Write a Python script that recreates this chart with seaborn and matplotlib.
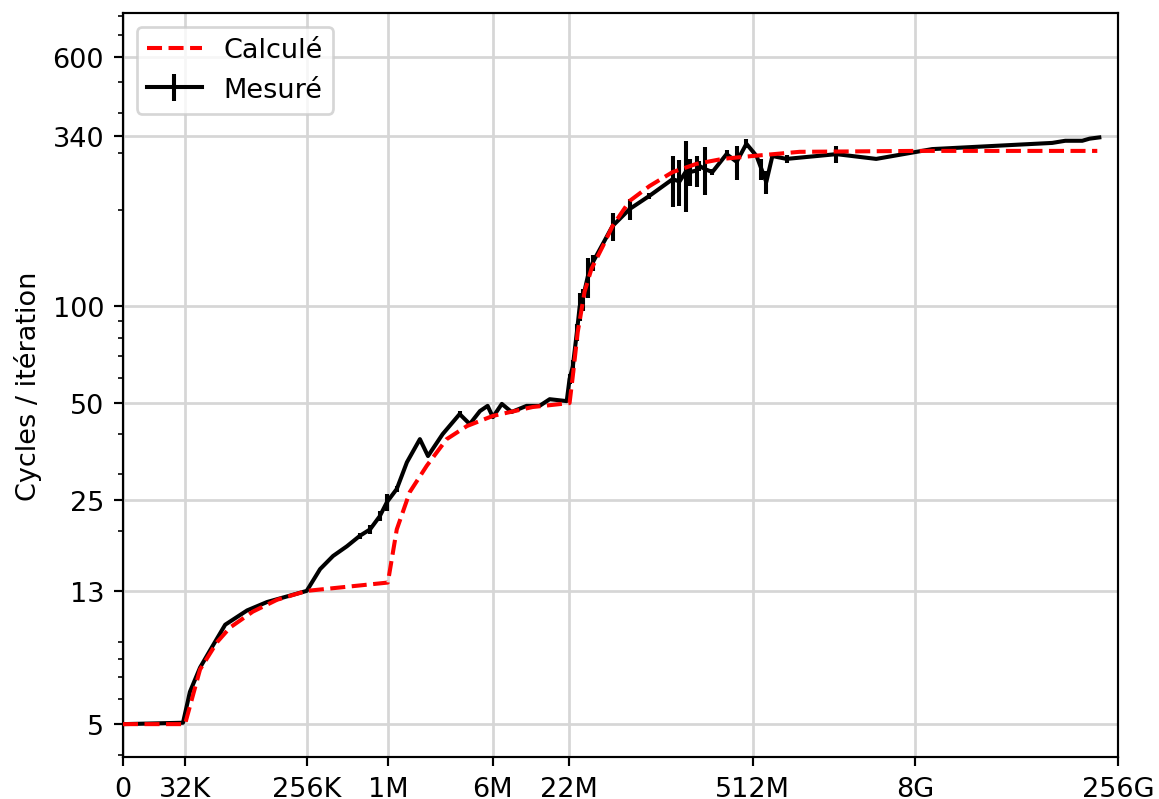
import numpy as np
import matplotlib
matplotlib.use("Agg")
import matplotlib.pyplot as plt
import matplotlib.ticker as mticker
import seaborn as sns

# taille du tableau en log2(octets)
calc_log2 = [13.47, 15.0, 15.37, 15.79, 16.11, 16.67, 17.27, 18.0, 20.0, 20.22,
             20.54, 20.96, 21.45, 21.95, 22.59, 23.57, 24.48, 24.56, 24.68, 24.85,
             25.02, 25.30, 25.54, 25.96, 26.45, 27.02, 27.61, 28.25, 28.99, 30.15,
             33.03, 37.49]
calc_cycles = [5.0, 5.0, 7.4, 9.0, 10.0, 11.2, 12.2, 13.0, 13.8, 20.2,
               26.4, 31.9, 38.6, 42.4, 45.6, 48.6, 50.0, 60.7, 83, 111,
               131, 154, 178, 213, 237, 262, 278, 288, 294, 303,
               305, 305]

mes_log2 = [13.47, 14.95, 15.12, 15.37, 15.62, 15.99, 16.53, 17.02, 18.0, 18.33,
            18.65, 18.99, 19.31, 19.56, 19.80, 19.98, 20.22, 20.47, 20.79, 20.99,
            21.35, 21.77, 22.02, 22.27, 22.46, 22.59, 22.81, 23.05, 23.42, 23.74,
            23.99, 24.41, 24.48, 24.56, 24.66, 24.73, 24.80, 24.93, 25.05, 25.54,
            25.96, 26.45, 27.02, 27.19, 27.34, 27.44, 27.61, 27.68, 27.81, 28.00,
            28.35, 28.60, 28.84, 29.09, 29.21, 29.33, 29.48, 29.83, 31.06, 32.04,
            33.42, 36.38, 36.7, 37.12, 37.3, 37.54]
mes_cycles = [5.0, 5.05, 6.3, 7.5, 8.5, 10.2, 11.3, 12.0, 13.0, 15.2,
              16.7, 17.9, 19.3, 20.2, 22.2, 24.6, 27.0, 32.7, 38.6, 34.2,
              40.0, 46.2, 43.0, 47.2, 49.0, 45.2, 49.7, 46.9, 49.0, 49.0,
              51.4, 50.7, 59.4, 65, 83, 100, 105, 124, 137, 178,
              201, 221, 249, 245, 262, 262, 265, 274, 268, 262,
              298, 282, 321, 294, 268, 244, 294, 288, 298, 288,
              309, 323, 328, 328, 333, 336]
mes_err = [0, 0, 0, 0, 0, 0, 0, 0, 0, 0,
           0, 0, 0.4, 0.6, 0.8, 1.5, 0.5, 0, 0, 0,
           0, 1.0, 0, 0, 0, 0, 0, 0, 0, 0,
           0, 0, 2, 3, 5, 10, 8, 18, 8, 18,
           15, 5, 45, 40, 65, 25, 30, 10, 45, 5,
           8, 35, 10, 5, 20, 20, 5, 8, 19, 0,
           0, 0, 0, 0, 0, 0]

x_ticks_log2 = [13.47, 15, 18, 20, 22.585, 24.46, 29, 33, 38]
x_tick_labels = ["0", "32K", "256K", "1M", "6M", "22M", "512M", "8G", "256G"]
y_ticks = [5, 13, 25, 50, 100, 340, 600]

calc_x = 2.0 ** np.array(calc_log2)
mes_x = 2.0 ** np.array(mes_log2)

dpi = 195
fig = plt.figure(figsize=(1159 / dpi, 800 / dpi), dpi=dpi)
ax = fig.add_axes([0.1061, 0.0525, 0.8585, 0.93])

sns.lineplot(x=calc_x, y=calc_cycles, ax=ax, color="red", linestyle="--",
             linewidth=1.5, label="Calculé", zorder=3)
ax.errorbar(mes_x, mes_cycles, yerr=mes_err, color="black", linewidth=1.5,
            elinewidth=1.5, capsize=0, label="Mesuré", zorder=2)

ax.set_xscale("log", base=2)
ax.set_yscale("log")
ax.set_xlim(2.0 ** 13.47, 2.0 ** 38)
ax.set_ylim(3.95, 820)

ax.set_xticks(2.0 ** np.array(x_ticks_log2))
ax.set_xticklabels(x_tick_labels)
ax.xaxis.set_minor_locator(mticker.NullLocator())
ax.set_yticks(y_ticks)
ax.set_yticklabels([str(v) for v in y_ticks])
ax.yaxis.set_minor_formatter(mticker.NullFormatter())

ax.grid(True, which="major", color="#d6d6d6", linewidth=1.0)
ax.set_axisbelow(True)
ax.set_ylabel("Cycles / itération")
ax.set_xlabel("")
ax.legend(loc="upper left")

fig.savefig("out.png", dpi=dpi)
